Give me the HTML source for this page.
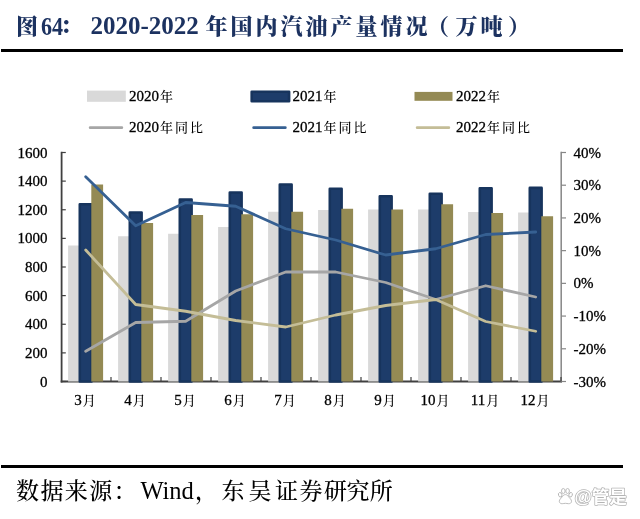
<!DOCTYPE html>
<html lang="zh-CN"><head><meta charset="utf-8"><title>图64</title>
<style>
html,body{margin:0;padding:0;background:#fff;}
body{width:640px;height:519px;position:relative;overflow:hidden;font-family:"Liberation Serif","Noto Serif CJK SC",serif;}
.title span{position:absolute;top:8px;font-size:25px;line-height:32px;font-weight:bold;color:#1c3260;white-space:nowrap;}
.title .c{font-size:22px;font-weight:900;}
.rule{position:absolute;left:1px;width:622px;height:2.6px;background:#000;}
.src span{position:absolute;top:475px;font-size:24.5px;line-height:32px;color:#000;white-space:nowrap;}
.src .c{font-size:23px;font-weight:500;top:475.5px;}
svg{position:absolute;left:0;top:0;}
svg text{font-family:"Liberation Serif","Noto Serif CJK SC",serif;font-size:15px;fill:#000;stroke:#000;stroke-width:0.3px;}
svg text .k{font-size:13px;letter-spacing:2px;font-weight:500;stroke:none;}
svg text.wm{font-family:"Liberation Sans","Noto Sans CJK SC",sans-serif;font-size:17.6px;font-weight:bold;fill:#fff;stroke:#b4b4b4;stroke-width:1.5px;paint-order:stroke;stroke-linejoin:round;}
</style></head><body>
<div class="title"><span class="c" style="left:16px;top:10.5px">图</span><span style="left:40.6px;top:10.5px;transform:scaleX(.885);transform-origin:0 0">64</span><span class="c" style="left:60px;top:10px">：</span><span style="left:90.5px;top:10px">2020-2022</span><span class="c" style="left:205.5px;top:10.5px;letter-spacing:3px">年国内汽油产量情况</span><span class="c" style="left:427px;top:10.5px">（</span><span class="c" style="left:455.5px;top:10.5px;letter-spacing:3px">万吨</span><span class="c" style="left:508px;top:10.5px">）</span></div>
<div class="rule" style="top:49.2px"></div>
<svg width="640" height="519" viewBox="0 0 640 519">
<line x1="61.6" y1="151.8" x2="61.6" y2="382.50" stroke="#404040" stroke-width="1.8"/>
<line x1="60.7" y1="381.50" x2="562" y2="381.50" stroke="#404040" stroke-width="1.8"/>
<line x1="561.2" y1="151.8" x2="561.2" y2="382.50" stroke="#868686" stroke-width="1.5"/>
<line x1="61" y1="152.50" x2="65.8" y2="152.50" stroke="#404040" stroke-width="1.2"/>
<text x="47.6" y="157.50" text-anchor="end">1600</text>
<line x1="61" y1="181.12" x2="65.8" y2="181.12" stroke="#404040" stroke-width="1.2"/>
<text x="47.6" y="186.12" text-anchor="end">1400</text>
<line x1="61" y1="209.75" x2="65.8" y2="209.75" stroke="#404040" stroke-width="1.2"/>
<text x="47.6" y="214.75" text-anchor="end">1200</text>
<line x1="61" y1="238.38" x2="65.8" y2="238.38" stroke="#404040" stroke-width="1.2"/>
<text x="47.6" y="243.38" text-anchor="end">1000</text>
<line x1="61" y1="267.00" x2="65.8" y2="267.00" stroke="#404040" stroke-width="1.2"/>
<text x="47.6" y="272.00" text-anchor="end">800</text>
<line x1="61" y1="295.62" x2="65.8" y2="295.62" stroke="#404040" stroke-width="1.2"/>
<text x="47.6" y="300.62" text-anchor="end">600</text>
<line x1="61" y1="324.25" x2="65.8" y2="324.25" stroke="#404040" stroke-width="1.2"/>
<text x="47.6" y="329.25" text-anchor="end">400</text>
<line x1="61" y1="352.88" x2="65.8" y2="352.88" stroke="#404040" stroke-width="1.2"/>
<text x="47.6" y="357.88" text-anchor="end">200</text>
<line x1="61" y1="381.50" x2="65.8" y2="381.50" stroke="#404040" stroke-width="1.2"/>
<text x="47.6" y="386.50" text-anchor="end">0</text>
<line x1="561" y1="152.50" x2="566" y2="152.50" stroke="#868686" stroke-width="1.2"/>
<text x="573.6" y="157.50">40%</text>
<line x1="561" y1="185.21" x2="566" y2="185.21" stroke="#868686" stroke-width="1.2"/>
<text x="573.6" y="190.21">30%</text>
<line x1="561" y1="217.93" x2="566" y2="217.93" stroke="#868686" stroke-width="1.2"/>
<text x="573.6" y="222.93">20%</text>
<line x1="561" y1="250.64" x2="566" y2="250.64" stroke="#868686" stroke-width="1.2"/>
<text x="573.6" y="255.64">10%</text>
<line x1="561" y1="283.36" x2="566" y2="283.36" stroke="#868686" stroke-width="1.2"/>
<text x="573.6" y="288.36">0%</text>
<line x1="561" y1="316.07" x2="566" y2="316.07" stroke="#868686" stroke-width="1.2"/>
<text x="573.6" y="321.07">-10%</text>
<line x1="561" y1="348.79" x2="566" y2="348.79" stroke="#868686" stroke-width="1.2"/>
<text x="573.6" y="353.79">-20%</text>
<line x1="561" y1="381.50" x2="566" y2="381.50" stroke="#868686" stroke-width="1.2"/>
<text x="573.6" y="386.50">-30%</text>
<line x1="111.00" y1="377.00" x2="111.00" y2="381.50" stroke="#404040" stroke-width="1.2"/>
<line x1="161.00" y1="377.00" x2="161.00" y2="381.50" stroke="#404040" stroke-width="1.2"/>
<line x1="211.00" y1="377.00" x2="211.00" y2="381.50" stroke="#404040" stroke-width="1.2"/>
<line x1="261.00" y1="377.00" x2="261.00" y2="381.50" stroke="#404040" stroke-width="1.2"/>
<line x1="311.00" y1="377.00" x2="311.00" y2="381.50" stroke="#404040" stroke-width="1.2"/>
<line x1="361.00" y1="377.00" x2="361.00" y2="381.50" stroke="#404040" stroke-width="1.2"/>
<line x1="411.00" y1="377.00" x2="411.00" y2="381.50" stroke="#404040" stroke-width="1.2"/>
<line x1="461.00" y1="377.00" x2="461.00" y2="381.50" stroke="#404040" stroke-width="1.2"/>
<line x1="511.00" y1="377.00" x2="511.00" y2="381.50" stroke="#404040" stroke-width="1.2"/>
<line x1="561.00" y1="377.00" x2="561.00" y2="381.50" stroke="#404040" stroke-width="1.2"/>
<text x="86.00" y="405.2" text-anchor="middle">3<tspan class="k" dx="1">月</tspan></text>
<text x="136.00" y="405.2" text-anchor="middle">4<tspan class="k" dx="1">月</tspan></text>
<text x="186.00" y="405.2" text-anchor="middle">5<tspan class="k" dx="1">月</tspan></text>
<text x="236.00" y="405.2" text-anchor="middle">6<tspan class="k" dx="1">月</tspan></text>
<text x="286.00" y="405.2" text-anchor="middle">7<tspan class="k" dx="1">月</tspan></text>
<text x="336.00" y="405.2" text-anchor="middle">8<tspan class="k" dx="1">月</tspan></text>
<text x="386.00" y="405.2" text-anchor="middle">9<tspan class="k" dx="1">月</tspan></text>
<text x="436.00" y="405.2" text-anchor="middle">10<tspan class="k" dx="1">月</tspan></text>
<text x="486.00" y="405.2" text-anchor="middle">11<tspan class="k" dx="1">月</tspan></text>
<text x="536.00" y="405.2" text-anchor="middle">12<tspan class="k" dx="1">月</tspan></text>
<rect x="68.10" y="245.50" width="11.8" height="136.00" fill="#d9d9d9"/>
<rect x="118.10" y="236.25" width="11.8" height="145.25" fill="#d9d9d9"/>
<rect x="168.10" y="233.75" width="11.8" height="147.75" fill="#d9d9d9"/>
<rect x="218.10" y="227.00" width="11.8" height="154.50" fill="#d9d9d9"/>
<rect x="268.10" y="211.75" width="11.8" height="169.75" fill="#d9d9d9"/>
<rect x="318.10" y="210.00" width="11.8" height="171.50" fill="#d9d9d9"/>
<rect x="368.10" y="209.50" width="11.8" height="172.00" fill="#d9d9d9"/>
<rect x="418.10" y="209.50" width="11.8" height="172.00" fill="#d9d9d9"/>
<rect x="468.10" y="212.00" width="11.8" height="169.50" fill="#d9d9d9"/>
<rect x="518.10" y="212.50" width="11.8" height="169.00" fill="#d9d9d9"/>
<rect x="79.80" y="204.30" width="11.8" height="177.20" fill="#1d3c6a" stroke="#17345d" stroke-width="2.6" stroke-linejoin="round"/>
<rect x="129.80" y="212.55" width="11.8" height="168.95" fill="#1d3c6a" stroke="#17345d" stroke-width="2.6" stroke-linejoin="round"/>
<rect x="179.80" y="199.55" width="11.8" height="181.95" fill="#1d3c6a" stroke="#17345d" stroke-width="2.6" stroke-linejoin="round"/>
<rect x="229.80" y="192.55" width="11.8" height="188.95" fill="#1d3c6a" stroke="#17345d" stroke-width="2.6" stroke-linejoin="round"/>
<rect x="279.80" y="184.55" width="11.8" height="196.95" fill="#1d3c6a" stroke="#17345d" stroke-width="2.6" stroke-linejoin="round"/>
<rect x="329.80" y="188.80" width="11.8" height="192.70" fill="#1d3c6a" stroke="#17345d" stroke-width="2.6" stroke-linejoin="round"/>
<rect x="379.80" y="196.30" width="11.8" height="185.20" fill="#1d3c6a" stroke="#17345d" stroke-width="2.6" stroke-linejoin="round"/>
<rect x="429.80" y="193.80" width="11.8" height="187.70" fill="#1d3c6a" stroke="#17345d" stroke-width="2.6" stroke-linejoin="round"/>
<rect x="479.80" y="188.30" width="11.8" height="193.20" fill="#1d3c6a" stroke="#17345d" stroke-width="2.6" stroke-linejoin="round"/>
<rect x="529.80" y="187.90" width="11.8" height="193.60" fill="#1d3c6a" stroke="#17345d" stroke-width="2.6" stroke-linejoin="round"/>
<rect x="91.30" y="184.50" width="11.8" height="197.00" fill="#948a54"/>
<rect x="141.30" y="223.00" width="11.8" height="158.50" fill="#948a54"/>
<rect x="191.30" y="215.00" width="11.8" height="166.50" fill="#948a54"/>
<rect x="241.30" y="214.25" width="11.8" height="167.25" fill="#948a54"/>
<rect x="291.30" y="211.75" width="11.8" height="169.75" fill="#948a54"/>
<rect x="341.30" y="208.75" width="11.8" height="172.75" fill="#948a54"/>
<rect x="391.30" y="209.50" width="11.8" height="172.00" fill="#948a54"/>
<rect x="441.30" y="204.25" width="11.8" height="177.25" fill="#948a54"/>
<rect x="491.30" y="213.00" width="11.8" height="168.50" fill="#948a54"/>
<rect x="541.30" y="216.25" width="11.8" height="165.25" fill="#948a54"/>
<polyline points="85.70,351.25 135.70,322.50 185.70,321.25 235.70,291.00 285.70,272.00 335.70,272.00 385.70,282.50 435.70,299.50 485.70,285.75 535.70,297.00" fill="none" stroke="#a6a6a6" stroke-width="2.8" stroke-linejoin="round" stroke-linecap="round"/>
<polyline points="85.70,176.75 135.70,225.75 185.70,202.50 235.70,206.25 285.70,228.75 335.70,240.00 385.70,255.00 435.70,248.75 485.70,234.50 535.70,232.00" fill="none" stroke="#366092" stroke-width="2.8" stroke-linejoin="round" stroke-linecap="round"/>
<polyline points="85.70,250.00 135.70,304.50 185.70,311.25 235.70,320.50 285.70,327.00 335.70,315.00 385.70,305.50 435.70,299.50 485.70,321.50 535.70,331.25" fill="none" stroke="#c4bd97" stroke-width="2.8" stroke-linejoin="round" stroke-linecap="round"/>
<rect x="87" y="90.6" width="38.8" height="11.2" fill="#d9d9d9"/>
<text x="129.00" y="101.2">2020<tspan class="k" dx="1">年</tspan></text>
<rect x="251.70" y="91.8" width="37.4" height="9.4" fill="#1d3c6a" stroke="#17345d" stroke-width="2.6" stroke-linejoin="round"/>
<text x="292.50" y="101.2">2021<tspan class="k" dx="1">年</tspan></text>
<rect x="414.50" y="91.9" width="38" height="8.9" fill="#948a54"/>
<text x="456.00" y="101.2">2022<tspan class="k" dx="1">年</tspan></text>
<line x1="90.20" y1="127.7" x2="121.80" y2="127.7" stroke="#a6a6a6" stroke-width="2.8" stroke-linecap="round"/>
<text x="129.00" y="132.2">2020<tspan class="k" dx="1">年同比</tspan></text>
<line x1="253.70" y1="127.7" x2="285.30" y2="127.7" stroke="#366092" stroke-width="2.8" stroke-linecap="round"/>
<text x="292.50" y="132.2">2021<tspan class="k" dx="1">年同比</tspan></text>
<line x1="417.20" y1="127.7" x2="448.80" y2="127.7" stroke="#c4bd97" stroke-width="2.8" stroke-linecap="round"/>
<text x="456.00" y="132.2">2022<tspan class="k" dx="1">年同比</tspan></text>
<g fill="#fff" stroke="#b4b4b4" stroke-width="0.9"><ellipse cx="560.2" cy="494.8" rx="1.7" ry="2.3" transform="rotate(-20 560.2 494.8)"/><ellipse cx="563.3" cy="491" rx="1.8" ry="2.5"/><ellipse cx="567.6" cy="491" rx="1.8" ry="2.5"/><ellipse cx="570.6" cy="494.8" rx="1.7" ry="2.3" transform="rotate(20 570.6 494.8)"/><path d="M565.4 494.6c1.6 0 2.5 1.2 3.5 2.6c1 1.3 2.6 2.2 2.6 4.1c0 1.8-1.5 2.4-2.9 2.4c-1.2 0-2.1-.4-3.2-.4s-2 .4-3.2.4c-1.400 0-2.900-.6-2.900-2.400c0-1.900 1.600-2.800 2.600-4.100c1-1.400 1.900-2.600 3.500-2.600z"/></g>
<text class="wm" x="574.5" y="502.8" fill="#fff" stroke="#b4b4b4" stroke-width="1.5" paint-order="stroke" stroke-linejoin="round">@管是</text>
</svg>
<div class="rule" style="top:465.2px"></div>
<div class="src"><span class="c" style="left:16px;letter-spacing:1.4px">数据来源：</span><span style="left:140.4px">Wind</span><span class="c" style="left:195px">，</span><span class="c" style="left:221.4px">东</span><span class="c" style="left:248.5px">吴</span><span class="c" style="left:275.0px">证</span><span class="c" style="left:299.5px">券</span><span class="c" style="left:324.0px">研</span><span class="c" style="left:346.5px">究</span><span class="c" style="left:369.8px">所</span></div>
</body></html>
